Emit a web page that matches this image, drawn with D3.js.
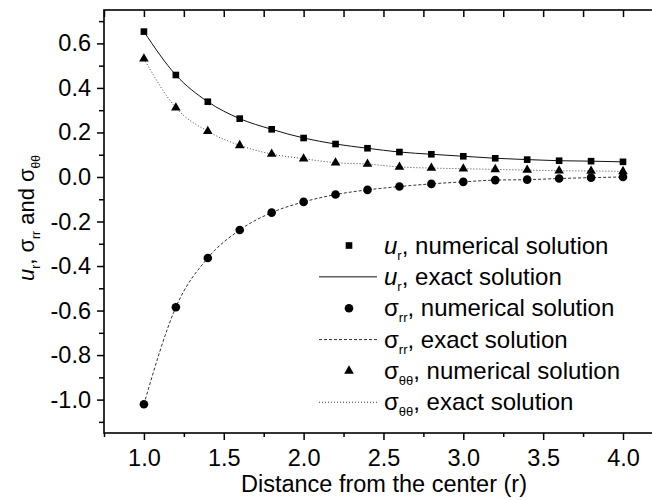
<!DOCTYPE html>
<html>
<head>
<meta charset="utf-8">
<script src="https://cdn.jsdelivr.net/npm/d3@7"></script>
<style>
  html, body { margin: 0; padding: 0; background: #fff; }
  svg { display: block; font-family: "Liberation Sans", Arial, sans-serif; }
</style>
</head>
<body>
<svg id="chart" width="652" height="500"></svg>
<script>
// ---- data ----
const radius = [1.0, 1.2, 1.4, 1.6, 1.8, 2.0, 2.2, 2.4, 2.6, 2.8, 3.0, 3.2, 3.4, 3.6, 3.8, 4.0];
const urValues = [0.653, 0.458, 0.338, 0.262, 0.214, 0.175, 0.148, 0.129, 0.112, 0.102, 0.093, 0.084, 0.078, 0.073, 0.071, 0.068];
const sigmaRR = [-1.021, -0.585, -0.364, -0.238, -0.160, -0.112, -0.079, -0.058, -0.043, -0.031, -0.022, -0.014, -0.012, -0.007, -0.003, 0.000];
const sigmaTT = [0.531, 0.311, 0.205, 0.142, 0.103, 0.082, 0.064, 0.058, 0.045, 0.040, 0.037, 0.034, 0.031, 0.028, 0.027, 0.025];
const xTicks = [1.0, 1.5, 2.0, 2.5, 3.0, 3.5, 4.0];
const xMinorTicks = [0.75, 1.25, 1.75, 2.25, 2.75, 3.25, 3.75, 4.25];
const yTicks = [0.6, 0.4, 0.2, 0.0, -0.2, -0.4, -0.6, -0.8, -1.0];
const yMinorTicks = [0.7, 0.5, 0.3, 0.1, -0.1, -0.3, -0.5, -0.7, -0.9, -1.1];

const svg = d3.select("#chart");
const mLeft = 104, mTop = 10, mBottom = 433;
const x = d3.scaleLinear().domain([0.75, 4.0]).range([mLeft, 623]);
const y = d3.scaleLinear().domain([-1.15, 0.75]).range([mBottom, mTop]);
const mRight = x(4.2);
const fs = 23.5;
const fmt = d => d3.format(".1f")(d).replace("−", "-");

// frame
svg.append("rect").attr("x", mLeft).attr("y", mTop)
  .attr("width", mRight - mLeft).attr("height", mBottom - mTop)
  .attr("fill", "none").attr("stroke", "#000").attr("stroke-width", 1.6);

// bottom axis
const gx = svg.append("g").attr("transform", `translate(0,${mBottom})`);
gx.call(d3.axisBottom(x).tickValues(xTicks).tickSize(7).tickFormat(fmt));
const gxm = svg.append("g").attr("transform", `translate(0,${mBottom})`);
gxm.call(d3.axisBottom(x).tickValues(xMinorTicks).tickSize(4).tickFormat(""));
// top axis (inward)
const gt = svg.append("g").attr("transform", `translate(0,${mTop})`);
gt.call(d3.axisBottom(x).tickValues(xTicks.concat(xMinorTicks)).tickSize(7).tickFormat(""));
// left axis
const gy = svg.append("g").attr("transform", `translate(${mLeft},0)`);
gy.call(d3.axisLeft(y).tickValues(yTicks).tickSize(7).tickFormat(fmt));
const gym = svg.append("g").attr("transform", `translate(${mLeft},0)`);
gym.call(d3.axisLeft(y).tickValues(yMinorTicks).tickSize(5).tickFormat(""));

svg.selectAll(".domain").remove();
svg.selectAll(".tick line").attr("stroke", "#000").attr("stroke-width", 1.5);
gx.selectAll(".tick text").attr("font-size", fs).attr("fill", "#000").attr("dy", "0.71em").attr("y", 16)
  .attr("font-family", "Liberation Sans, Arial, sans-serif");
gy.selectAll(".tick text").attr("font-size", fs).attr("fill", "#000").attr("x", -13)
  .attr("font-family", "Liberation Sans, Arial, sans-serif");

// lines (exact solutions)
const lineGen = vals => d3.line().x((d, i) => x(radius[i])).y(d => y(d)).curve(d3.curveMonotoneX)(vals);
svg.append("path").attr("d", lineGen(urValues)).attr("fill", "none").attr("stroke", "#111").attr("stroke-width", 1);
svg.append("path").attr("d", lineGen(sigmaRR)).attr("fill", "none").attr("stroke", "#333").attr("stroke-width", 1).attr("stroke-dasharray", "3,2");
svg.append("path").attr("d", lineGen(sigmaTT)).attr("fill", "none").attr("stroke", "#444").attr("stroke-width", 1).attr("stroke-dasharray", "1,2");

// markers (numerical)
const sq = d3.symbol().type(d3.symbolSquare).size(44)();
const ci = d3.symbol().type(d3.symbolCircle).size(58)();
const tr = d3.symbol().type(d3.symbolTriangle).size(40)();
function markers(vals, path) {
  svg.append("g").selectAll("path").data(vals).join("path")
    .attr("d", path).attr("fill", "#000")
    .attr("transform", (d, i) => `translate(${x(radius[i])},${y(d)})`);
}
markers(urValues, sq);
markers(sigmaRR, ci);
markers(sigmaTT, tr);

// legend
const legend = [
  {kind: "marker", sym: sq, main: "u", sub: "r", italic: true, text: ", numerical solution"},
  {kind: "line", dash: null, color: "#111", main: "u", sub: "r", italic: true, text: ", exact solution"},
  {kind: "marker", sym: ci, main: "σ", sub: "rr", italic: false, text: ", numerical solution"},
  {kind: "line", dash: "3,2", color: "#333", main: "σ", sub: "rr", italic: false, text: ", exact solution"},
  {kind: "marker", sym: tr, main: "σ", sub: "θθ", italic: false, text: ", numerical solution"},
  {kind: "line", dash: "1,2", color: "#444", main: "σ", sub: "θθ", italic: false, text: ", exact solution"}
];
const lg = svg.append("g");
legend.forEach((d, i) => {
  const ry = 245.5 + i * 31.35;
  if (d.kind === "marker") {
    lg.append("path").attr("d", d.sym).attr("fill", "#000").attr("transform", `translate(349,${ry})`);
  } else {
    lg.append("line").attr("x1", 319).attr("x2", 377).attr("y1", ry).attr("y2", ry)
      .attr("stroke", d.color).attr("stroke-width", 1).attr("stroke-dasharray", d.dash);
  }
  const t = lg.append("text").attr("x", 384).attr("y", ry + 8).attr("font-size", 24).attr("fill", "#000");
  t.append("tspan").attr("font-style", d.italic ? "italic" : "normal").text(d.main);
  t.append("tspan").attr("font-size", 13).attr("dy", 6).text(d.sub);
  t.append("tspan").attr("dy", -6).text(d.text);
});

// axis titles
svg.append("text").attr("x", 384).attr("y", 492).attr("text-anchor", "middle")
  .attr("font-size", 23.5).attr("fill", "#000").text("Distance from the center (r)");

const yl = svg.append("text").attr("transform", "translate(34,218) rotate(-90)")
  .attr("text-anchor", "middle").attr("font-size", 22).attr("fill", "#000");
yl.append("tspan").attr("font-style", "italic").text("u");
yl.append("tspan").attr("font-size", 12).attr("dy", 6).text("r");
yl.append("tspan").attr("dy", -6).text(", σ");
yl.append("tspan").attr("font-size", 12).attr("dy", 6).text("rr");
yl.append("tspan").attr("dy", -6).text(" and σ");
yl.append("tspan").attr("font-size", 12).attr("dy", 6).text("θθ");
</script>
</body>
</html>
